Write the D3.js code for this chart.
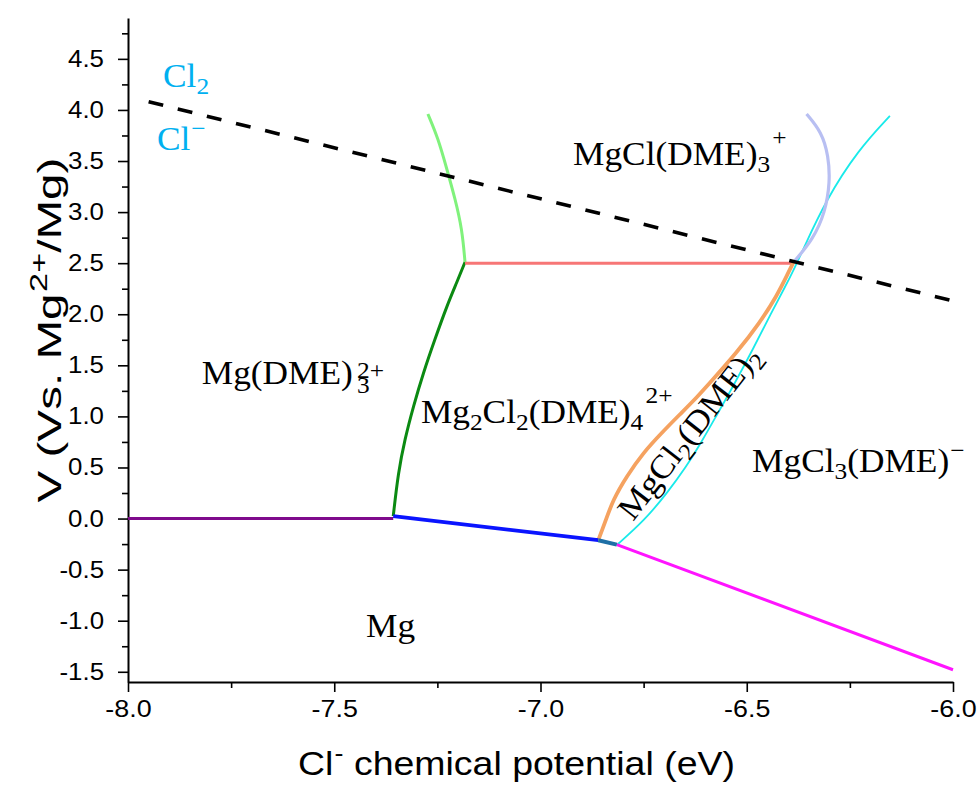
<!DOCTYPE html>
<html><head><meta charset="utf-8">
<script src="https://cdn.jsdelivr.net/npm/d3@7"></script>
<style>body{margin:0;background:#fff} text{white-space:pre}</style>
</head><body>
<svg id="c" width="979" height="786"></svg>
<script>
// ---------- data ----------
const xTicks = [-8.0, -7.5, -7.0, -6.5, -6.0];
const xMinor = [-7.75, -7.25, -6.75, -6.25];
const yTicks = [-1.5, -1.0, -0.5, 0.0, 0.5, 1.0, 1.5, 2.0, 2.5, 3.0, 3.5, 4.0, 4.5];
const yMinor = [-1.25, -0.75, -0.25, 0.25, 0.75, 1.25, 1.75, 2.25, 2.75, 3.25, 3.75, 4.25, 4.75];

const purpleLine = [[-8.0, 0.0], [-7.357, 0.0]];
const blueLine = [[-7.357, 0.023], [-6.86, -0.212]];
const tealLine = [[-6.86, -0.212], [-6.815, -0.255]];
const magentaLine = [[-6.815, -0.255], [-6.0, -1.48]];
const darkGreenLine = [[-7.357, 0.023], [-7.345, 0.448], [-7.329, 0.775], [-7.308, 1.101], [-7.284, 1.428],
  [-7.256, 1.755], [-7.227, 2.081], [-7.203, 2.311], [-7.183, 2.51]];
const lightGreenLine = [[-7.183, 2.51], [-7.19, 2.83], [-7.207, 3.13], [-7.227, 3.42], [-7.248, 3.72], [-7.273, 3.96]];
const salmonLine = [[-7.183, 2.5], [-6.387, 2.5]];
const lavenderLine = [[-6.387, 2.507], [-6.339, 2.735], [-6.31, 2.997], [-6.298, 3.291], [-6.302, 3.552],
  [-6.318, 3.781], [-6.355, 3.961]];
const orangeLine = [[-6.86, -0.212], [-6.844, -0.042], [-6.824, 0.186], [-6.791, 0.415], [-6.751, 0.644],
  [-6.706, 0.84], [-6.662, 1.02], [-6.62, 1.19], [-6.589, 1.33], [-6.524, 1.625], [-6.468, 1.919],
  [-6.427, 2.179], [-6.399, 2.409], [-6.387, 2.507]];
const cyanLine = [[-6.815, -0.259], [-6.747, -0.014], [-6.693, 0.25], [-6.647, 0.505], [-6.611, 0.74],
  [-6.57, 1.033], [-6.538, 1.258], [-6.482, 1.679], [-6.441, 2.012], [-6.407, 2.267], [-6.383, 2.462],
  [-6.364, 2.629], [-6.308, 3.118], [-6.23, 3.608], [-6.153, 3.941]];
const chlorineLine = [[-7.95, 4.08], [-6.0, 2.13]];

// region labels: segments [text, kind]; anchor in data units
const labels = [
  {x: -7.915, y: 4.225, color: "#00b0f0", segs: [["Cl", "n"], ["2", "sub"]]},
  {x: -7.93, y: 3.608, color: "#00b0f0", segs: [["Cl", "n"], ["\u2212", "sup"]]},
  {x: -6.921, y: 3.461, color: "#000", segs: [["MgCl(DME)", "n"], ["3", "sub"], ["+", "supHi"]]},
  {x: -7.821, y: 1.317, color: "#000", segs: [["Mg(DME)", "n"], [["3", "2+"], "stack"]]},
  {x: -7.29, y: 0.935, color: "#000", segs: [["Mg", "n"], ["2", "sub"], ["Cl", "n"], ["2", "sub"], ["(DME)", "n"], ["4", "sub"], ["2+", "supHi"]]},
  {x: -6.776, y: -0.034, color: "#000", rot: -52, segs: [["Mg", "n"], ["Cl", "n"], ["2", "sub"], ["(DME)", "n"], ["2", "sub"]]},
  {x: -6.487, y: 0.456, color: "#000", segs: [["MgCl", "n"], ["3", "sub"], ["(DME)", "n"], ["\u2212", "sup"]]},
  {x: -7.423, y: -1.159, color: "#000", segs: [["Mg", "n"]]}
];

// ---------- chart ----------
const svg = d3.select("#c");
const x = d3.scaleLinear().domain([-8, -6]).range([128, 953]);
const y = d3.scaleLinear().domain([-1.6, 4.9]).range([682, 18]);

const sansFont = "'Liberation Sans', Arial, sans-serif";
const serifFont = "'Liberation Serif', 'Times New Roman', serif";

// axes
const gx = svg.append("g").attr("transform", "translate(0,682)");
gx.call(d3.axisBottom(x).tickValues(xTicks).tickSize(10).tickPadding(8).tickSizeOuter(0).tickFormat(d3.format(".1f")));
const gxm = svg.append("g").attr("transform", "translate(0,682)");
gxm.call(d3.axisBottom(x).tickValues(xMinor).tickSize(6).tickSizeOuter(0).tickFormat(""));
gxm.select(".domain").remove();

const gy = svg.append("g").attr("transform", "translate(128,0)");
gy.call(d3.axisLeft(y).tickValues(yTicks).tickSize(10).tickPadding(14).tickSizeOuter(0).tickFormat(d3.format(".1f")));
const gym = svg.append("g").attr("transform", "translate(128,0)");
gym.call(d3.axisLeft(y).tickValues(yMinor).tickSize(6).tickSizeOuter(0).tickFormat(""));
gym.select(".domain").remove();

[gx, gxm, gy, gym].forEach(g => {
  g.selectAll("path.domain").attr("stroke", "#000").attr("stroke-width", 2);
  g.selectAll(".tick line").attr("stroke", "#000").attr("stroke-width", 1.6);
});
const fmtMinus = s => s.replace("\u2212", "-");
gx.selectAll(".tick text").each(function() {
  const t = d3.select(this);
  t.text(fmtMinus(t.text())).attr("font-family", sansFont).attr("font-size", 24).attr("fill", "#000")
   .attr("transform", "scale(1.12,1)");
});
gy.selectAll(".tick text").each(function() {
  const t = d3.select(this);
  t.text(fmtMinus(t.text())).attr("font-family", sansFont).attr("font-size", 23.5).attr("fill", "#000")
   .attr("x", 0).attr("transform", "translate(-24,0) scale(1.1,1)");
});

// lines
const straight = d3.line().x(d => x(d[0])).y(d => y(d[1]));
const smooth = d3.line().x(d => x(d[0])).y(d => y(d[1])).curve(d3.curveBasis);
const plot = svg.append("g").attr("fill", "none").attr("stroke-linecap", "butt");
const series = [
  {d: purpleLine, c: "#7f0a8c", w: 3, f: straight},
  {d: darkGreenLine, c: "#0b8a12", w: 3, f: smooth},
  {d: lightGreenLine, c: "#80f27c", w: 3, f: smooth},
  {d: salmonLine, c: "#f77676", w: 3, f: straight},
  {d: cyanLine, c: "#19eaea", w: 1.8, f: smooth},
  {d: lavenderLine, c: "#b8bff2", w: 3.2, f: smooth},
  {d: orangeLine, c: "#f5a260", w: 3.8, f: smooth},
  {d: magentaLine, c: "#ff14ff", w: 3, f: straight},
  {d: blueLine, c: "#0a14ff", w: 3.8, f: straight},
  {d: tealLine, c: "#1e6fa6", w: 4, f: straight}
];
series.forEach(s => plot.append("path").attr("d", s.f(s.d)).attr("stroke", s.c).attr("stroke-width", s.w));
plot.append("path").attr("d", straight(chlorineLine)).attr("stroke", "#000").attr("stroke-width", 3.6)
  .attr("stroke-dasharray", "15,15");

// rich text helper
function rich(parent, segs, size, family, color) {
  const g = parent.append("g").attr("font-family", family).attr("fill", color);
  const ss = size * 0.72;
  let cx = 0;
  const put = (t, dy, fs) => g.append("text").attr("x", cx).attr("y", dy).attr("font-size", fs).text(t);
  segs.forEach(([t, k]) => {
    if (k === "n") { cx += put(t, 0, size).node().getComputedTextLength(); }
    else if (k === "sub") { cx += put(t, size * 0.22, ss).node().getComputedTextLength(); }
    else if (k === "sup") { cx += 1; cx += put(t, -size * 0.42, ss).node().getComputedTextLength(); }
    else if (k === "supHi") { cx += 2; cx += put(t, -size * 0.62, ss).node().getComputedTextLength(); }
    else if (k === "stack") {
      cx += 4;
      const a = put(t[0], size * 0.27, ss).node().getComputedTextLength();
      const b = put(t[1], -size * 0.18, ss).node().getComputedTextLength();
      cx += Math.max(a, b);
    }
  });
  return {g, width: cx};
}

labels.forEach(l => {
  const holder = svg.append("g").attr("transform",
    `translate(${x(l.x)},${y(l.y)})` + (l.rot ? ` rotate(${l.rot})` : "") + " scale(1.07,1)");
  rich(holder, l.segs, 33, serifFont, l.color);
});

// axis titles
const xt = svg.append("g");
const xr = rich(xt, [["Cl", "n"], ["-", "sup"], [" chemical potential (eV)", "n"]], 33, sansFont, "#000");
xt.attr("transform", `translate(298,775) scale(${437 / xr.width},1)`);

const yt = svg.append("g");
const yr = rich(yt, [["V (Vs. Mg", "n"], ["2+", "sup"], ["/Mg)", "n"]], 33, sansFont, "#000");
const yLen = 345;
yt.attr("transform", `translate(61,${330 + yLen / 2}) rotate(-90) scale(${yLen / yr.width},1)`);
</script>
</body></html>
